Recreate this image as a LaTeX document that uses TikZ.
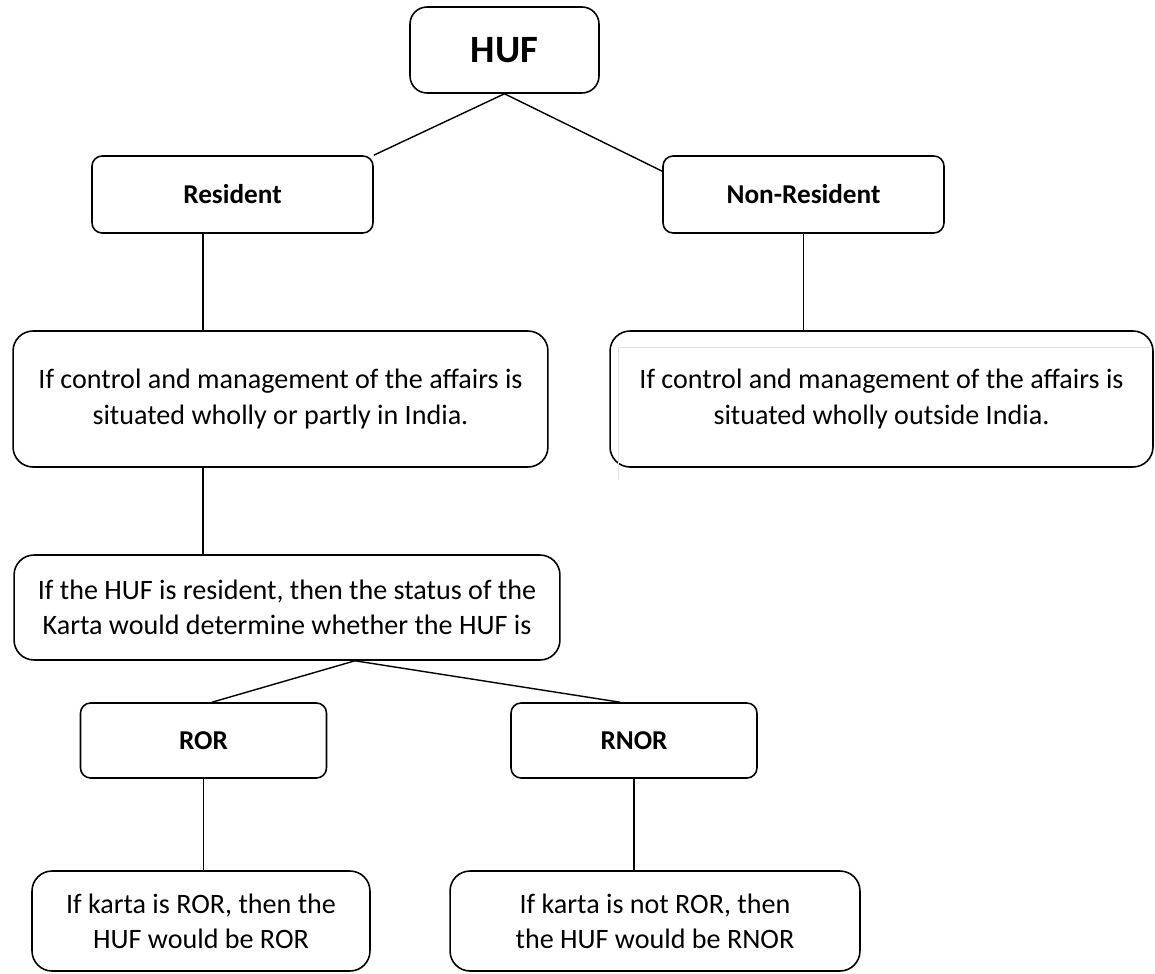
\documentclass[tikz,border=0pt]{standalone}
\usepackage{fontspec}
\setmainfont{Carlito}
\usetikzlibrary{positioning}

\tikzset{
  box/.style={draw, line width=0.9pt, align=center, inner sep=0pt},
  headbox/.style={box, rounded corners=0.2cm, font=\fontsize{15.5}{18}\selectfont\bfseries},
  textbox/.style={box, rounded corners=0.4cm, font=\fontsize{16}{20}\selectfont},
  link/.style={line width=0.8pt},
}

\begin{document}
\begin{tikzpicture}[x=0.02cm, y=-0.02cm]
        \useasboundingbox (0,0) rectangle (1155,973);

        % top level
        \node[headbox, rounded corners=0.34cm, minimum width=3.78cm, minimum height=1.72cm,
              font=\fontsize{22}{24}\selectfont\bfseries] (huf) at (504.5,50) {HUF};
        \node[headbox, minimum width=5.62cm, minimum height=1.54cm] (res) at (232.5,194.5) {Resident};
        \node[headbox, minimum width=5.62cm, minimum height=1.54cm] (nonres) at (803.5,194.5) {Non-Resident};

        % conditions
        \node[textbox, minimum width=10.7cm, minimum height=2.72cm] (inindia) at (280.5,399)
            {If control and management of the affairs is\\situated wholly or partly in India.};
        \node[textbox, minimum width=10.86cm, minimum height=2.72cm] (outindia) at (881.5,399)
            {If control and management of the affairs is\\situated wholly outside India.};
        \draw[gray!25, line width=0.4pt] (618,347) -- (618,480);
        \draw[gray!25, line width=0.4pt] (618,347) -- (1150,347);

        \node[textbox, minimum width=10.92cm, minimum height=2.1cm] (karta) at (287,607.5)
            {If the HUF is resident, then the status of the\\Karta would determine whether the HUF is};

        % ROR / RNOR
        \node[headbox, minimum width=4.92cm, minimum height=1.5cm] (ror) at (203.5,740.5) {ROR};
        \node[headbox, minimum width=4.92cm, minimum height=1.5cm] (rnor) at (634,740.5) {RNOR};

        \node[textbox, minimum width=6.76cm, minimum height=2cm] (isror) at (201,921)
            {If karta is ROR, then the\\HUF would be ROR};
        \node[textbox, minimum width=8.2cm, minimum height=2cm] (notror) at (655,921)
            {If karta is not ROR, then\\the HUF would be RNOR};

        % connectors
        \draw[link] (huf.south) -- (res.north east);
        \draw[link] (huf.south) -- ([yshift=-0.32cm]nonres.north west);
        \draw[link] ([xshift=-0.59cm]res.south) coordinate (r1) -- (r1 |- inindia.north);
        \draw[link] (nonres.south) -- (nonres.south |- outindia.north);
        \draw[link] (r1 |- inindia.south) -- (r1 |- karta.north);
        \draw[link] ([xshift=1.36cm]karta.south) coordinate (k1) -- ([xshift=0.17cm]ror.north);
        \draw[link] (k1) -- ([xshift=-0.28cm]rnor.north);
        \draw[link] (ror.south) -- (ror.south |- isror.north);
        \draw[link] (rnor.south) -- (rnor.south |- notror.north);
    \end{tikzpicture}
\end{document}
